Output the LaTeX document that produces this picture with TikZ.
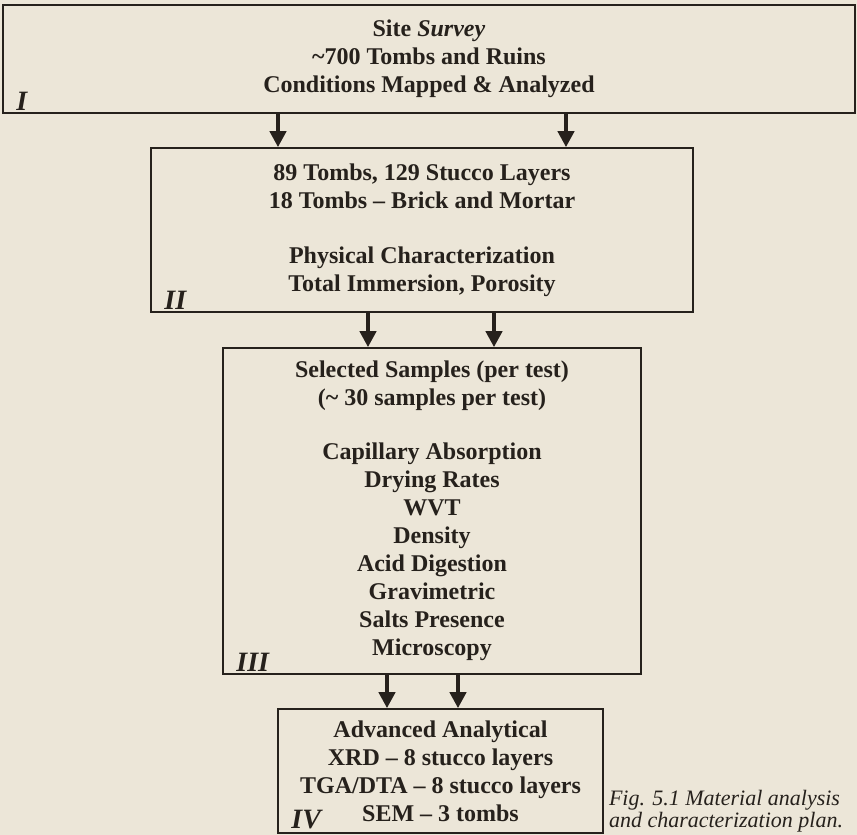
\documentclass[tikz,border=0pt]{standalone}
\usepackage{fontspec}
\setmainfont{Liberation Serif}
\usetikzlibrary{arrows.meta,positioning}
\definecolor{paper}{RGB}{236,230,216}
\definecolor{ink}{RGB}{38,33,28}
\begin{document}
\begin{tikzpicture}[x=1pt, y=-1pt, every node/.style={font=\fontsize{24}{28}\selectfont\bfseries, text=ink}]
    % Styles
    \tikzstyle{stage} = [rectangle, draw=ink, line width=1.6pt, align=center, inner sep=0pt]
    \tikzstyle{arrow} = [draw=ink, line width=4.5pt, -{Triangle[length=16pt, width=16pt]}]
    \tikzstyle{numeral} = [anchor=base west, inner sep=0pt, font=\fontsize{28}{28}\selectfont\bfseries\itshape]
    \tikzstyle{caption} = [anchor=north west, align=left, inner sep=0pt, font=\fontsize{22}{22}\selectfont\itshape]

    % Background
    \fill [paper] (0,0) rectangle (857,835);
    \useasboundingbox (0,0) rectangle (857,835);

    % Nodes
    \node (survey) [stage, minimum width=852pt, minimum height=108pt] at (429,59) {Site \textit{Survey}\\ \textasciitilde700 Tombs and Ruins\\ Conditions Mapped \& Analyzed};
    \node (tombs) [stage, minimum width=542pt, minimum height=164pt] at (422,230) {89 Tombs, 129 Stucco Layers\\ 18 Tombs -- Brick and Mortar\\[27pt] Physical Characterization\\ Total Immersion, Porosity};
    \node (samples) [stage, minimum width=418pt, minimum height=326pt] at (432,511) {Selected Samples (per test)\\ (\textasciitilde{} 30 samples per test)\\[26pt] Capillary Absorption\\ Drying Rates\\ WVT\\ Density\\ Acid Digestion\\ Gravimetric\\ Salts Presence\\ Microscopy};
    \node (analysis) [stage, minimum width=325pt, minimum height=124pt] at (440.5,771) {Advanced Analytical\\ XRD -- 8 stucco layers\\ TGA/DTA -- 8 stucco layers\\ SEM -- 3 tombs};

    % Numerals
    \node (num1) [numeral] at ([xshift=14pt,yshift=3pt]survey.south west) {I};
    \node (num2) [numeral] at ([xshift=14pt,yshift=3pt]tombs.south west) {II};
    \node (num3) [numeral] at ([xshift=14pt,yshift=3pt]samples.south west) {III};
    \node (num4) [numeral] at ([xshift=14pt,yshift=5pt]analysis.south west) {IV};

    % Arrows
    \path (tombs.north) ++(-144,0) coordinate (t1) ++(288,0) coordinate (t2);
    \path (samples.north) ++(-64,0) coordinate (s1) ++(126,0) coordinate (s2);
    \path (analysis.north) ++(-53.5,0) coordinate (a1) ++(71,0) coordinate (a2);
    \draw [arrow] (survey.south -| t1) -- (t1);
    \draw [arrow] (survey.south -| t2) -- (t2);
    \draw [arrow] (tombs.south -| s1) -- (s1);
    \draw [arrow] (tombs.south -| s2) -- (s2);
    \draw [arrow] (samples.south -| a1) -- (a1);
    \draw [arrow] (samples.south -| a2) -- (a2);

    % Caption
    \node (caption) [caption] at ([xshift=5pt,yshift=-19pt]analysis.east) {Fig. 5.1 Material analysis\\ and characterization plan.};
\end{tikzpicture}
\end{document}
